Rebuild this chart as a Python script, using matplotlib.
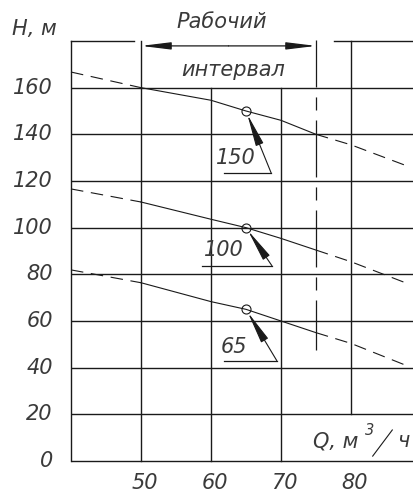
import numpy as np
import matplotlib
matplotlib.use('Agg')
from matplotlib import pyplot as plt

plt.rcParams['font.family'] = ['DejaVu Sans']
plt.rcParams['lines.scale_dashes'] = False

# характеристики насоса H(Q) для трёх диаметров колеса
q_150 = [40, 50, 60, 65, 70, 75, 80, 88.4]
h_150 = [166.7, 160, 154.6, 150, 146, 140, 135.5, 126]
q_100 = [40, 50, 60, 65, 70, 75, 80, 88.2]
h_100 = [116.6, 111, 103.6, 100, 95.4, 90.4, 85.4, 75.9]
q_65 = [40, 50, 60, 65, 70, 75, 80, 88.1]
h_65 = [81.9, 76.4, 68.3, 65, 60, 55, 50.4, 40.7]

curve_labels = ['150', '100', '65']
point_q = 65
point_h = [150, 100, 65]

work_q = [50, 75]   # рабочий интервал
x_ticks = [50, 60, 70, 80]
y_ticks = [0, 20, 40, 60, 80, 100, 120, 140, 160]

fig = plt.figure(figsize=(4.14, 4.95), dpi=100)
ax = fig.add_axes([0, 0, 1, 1])
ax.set_xlim(29.857, 89)
ax.set_ylim(-14.57, 197.57)
ax.axis('off')

ink = '#1a1a1a'
txt = '#3a3a3a'
glw = 1.0
fs = 15
tkw = dict(color=txt, fontsize=fs, fontstyle='oblique')

# сетка
for h in y_ticks:
    ax.plot([40, 89], [h, h], color=ink, lw=glw, solid_capstyle='butt')
ax.plot([40, 49], [180, 180], color=ink, lw=glw)
ax.plot([77.6, 89], [180, 180], color=ink, lw=glw)
ax.plot([40, 40], [0, 180], color=ink, lw=glw)
ax.plot([50, 50], [0, 180], color=ink, lw=glw)
ax.plot([60, 60], [0, 160], color=ink, lw=glw)
ax.plot([70, 70], [0, 160], color=ink, lw=glw)
ax.plot([80, 80], [20, 180], color=ink, lw=glw)

# граница рабочего интервала (штрихпунктир сверху вниз)
ax.plot([work_q[1], work_q[1]], [180.5, 47.5], color=ink, lw=0.9,
        linestyle=(7.2, (41, 7.2, 9.4, 7.2)))

# размерная линия
for qe in work_q:
    ax.annotate('', xy=(qe, 177.9), xytext=(62.5, 177.9),
                arrowprops=dict(arrowstyle='-|>,head_length=1.8,head_width=0.22',
                                mutation_scale=10, color=ink, lw=0.9,
                                shrinkA=0, shrinkB=0))
ax.text(61.6, 185.6, 'Рабочий', ha='center', va='baseline', **tkw)
ax.text(63.2, 165.2, 'интервал', ha='center', va='baseline', **tkw)

# кривые: сплошные в рабочем интервале, штрих вне его
for q, h in [(q_150, h_150), (q_100, h_100), (q_65, h_65)]:
    q = np.array(q)
    h = np.array(h)
    m = (q >= work_q[0]) & (q <= work_q[1])
    lo = q <= work_q[0]
    hi = q >= work_q[1]
    ax.plot(q[m], h[m], color=ink, lw=0.8)
    ax.plot(q[lo], h[lo], color=ink, lw=0.8, dashes=(9, 5.5))
    ax.plot(q[hi], h[hi], color=ink, lw=0.8, dashes=(9, 5.5))

# выноски с отметками
shelves = [(61.9, 68.6, 123.4, 63.6, 129.9),
           (58.7, 68.7, 83.7, 61.8, 90.4),
           (61.9, 69.4, 43.0, 63.3, 49.0)]
for lab, ph, (x0, x1, sy, tx, ty) in zip(curve_labels, point_h, shelves):
    ax.plot([x0, x1], [sy, sy], color=ink, lw=0.9)
    ax.annotate('', xy=(point_q, ph), xytext=(x1, sy),
                arrowprops=dict(arrowstyle='-|>,head_length=2.0,head_width=0.25',
                                mutation_scale=10, color=ink, lw=0.8,
                                shrinkA=0, shrinkB=2.5))
    ax.plot([point_q], [ph], 'o', ms=6.5, mfc='none', mec=ink, mew=0.8)
    ax.text(tx, ty, lab, ha='center', va='center', **tkw)

# подписи осей
for h in y_ticks:
    ax.text(37.4, h, str(h), ha='right', va='center', **tkw)
for q in x_ticks:
    ax.text(q + 0.5, -9.4, str(q), ha='center', va='center', **tkw)
ax.text(31.6, 182.6, 'H, м', ha='left', va='baseline', **tkw)
ax.text(74.6, 6.0, 'Q, м', ha='left', va='baseline', **tkw)
ax.text(82.0, 11.1, '3', ha='left', va='baseline', color=txt, fontsize=10.5,
        fontstyle='oblique')
ax.plot([83.1, 85.9], [2.1, 13.3], color=ink, lw=0.8)
ax.text(86.6, 6.0, 'ч', ha='left', va='baseline', **tkw)

plt.savefig('out.png', dpi=100)
